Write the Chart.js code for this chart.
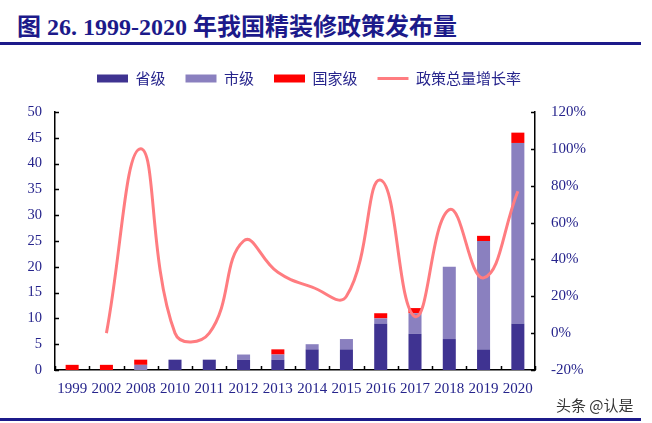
<!DOCTYPE html>
<html>
<head>
<meta charset="utf-8">
<script src="https://cdn.jsdelivr.net/npm/chart.js@4"></script>
<style>
  body { margin: 0; background: #fff; width: 652px; height: 423px; overflow: hidden; position: relative; }
  #title {
    position: absolute; left: 17px; top: 7px;
    font: bold 24px "Liberation Serif", "Noto Sans CJK SC", serif;
    color: #1c1a8a; white-space: nowrap;
  }
  .rule { position: absolute; left: 0; width: 641px; height: 3px; background: #1c1a8a; }
  #wrap { position: absolute; left: 0; top: 50px; width: 652px; height: 358px; }
  #mark {
    position: absolute; left: 556px; top: 394px;
    font: 15px "Noto Sans CJK SC", sans-serif; color: #333;
  }
</style>
</head>
<body>
<div id="title">图 26. 1999-2020 年我国精装修政策发布量</div>
<div class="rule" style="top:42px"></div>
<div id="wrap"><canvas id="c"></canvas></div>
<div id="mark">头条 @认是</div>
<div class="rule" style="top:418px"></div>
<script>
  const years = ["1999", "2002", "2008", "2010", "2011", "2012", "2013", "2014", "2015", "2016", "2017", "2018", "2019", "2020"];
  const provincial = [0, 0, 0, 2, 2, 2, 2, 4, 4, 9, 7, 6, 4, 9];
  const city = [0, 0, 1, 0, 0, 1, 1, 1, 2, 1, 4, 14, 21, 35];
  const national = [1, 1, 1, 0, 0, 0, 1, 0, 0, 1, 1, 0, 1, 2];
  const growth = [null, 0, 100, 0, 0, 50, 33, 25, 20, 83, 9, 67, 30, 77];

  const navy = "#26248c";
  const tickFont = { family: "Liberation Serif", size: 15 };

  // ticks drawn inward, like the original
  const innerTicks = {
    id: "innerTicks",
    afterDraw(chart) {
      const { ctx, chartArea: a, scales } = chart;
      ctx.save();
      ctx.strokeStyle = "#000";
      ctx.lineWidth = 1.5;
      ctx.beginPath();
      scales.y.ticks.forEach((t) => {
        const py = Math.round(scales.y.getPixelForValue(t.value)) + 0.5;
        ctx.moveTo(a.left, py); ctx.lineTo(a.left + 4, py);
      });
      scales.y1.ticks.forEach((t) => {
        const py = Math.round(scales.y1.getPixelForValue(t.value)) + 0.5;
        ctx.moveTo(a.right, py); ctx.lineTo(a.right - 4, py);
      });
      const x = scales.x;
      for (let i = 0; i <= years.length; i++) {
        const px = Math.round(x.getPixelForValue(i - 0.5)) + 0.5;
        ctx.moveTo(px, a.bottom); ctx.lineTo(px, a.bottom - 4);
      }
      ctx.stroke();
      ctx.restore();
    },
  };

  const legendGap = {
    id: "legendGap",
    beforeInit(chart) {
      const fit = chart.legend.fit;
      chart.legend.fit = function () {
        fit.call(this);
        this.height += 16;
      };
    },
  };

  new Chart(document.getElementById("c"), {
    data: {
      labels: years,
      datasets: [
        { type: "bar", label: "省级", data: provincial, backgroundColor: "#3f3391", yAxisID: "y", stack: "s", order: 2, pointStyle: "rect" },
        { type: "bar", label: "市级", data: city, backgroundColor: "#8a80bf", yAxisID: "y", stack: "s", order: 2, pointStyle: "rect" },
        { type: "bar", label: "国家级", data: national, backgroundColor: "#ff0000", yAxisID: "y", stack: "s", order: 2, pointStyle: "rect" },
        {
          type: "line", label: "政策总量增长率", data: growth, yAxisID: "y1",
          borderColor: "#ff7c80", backgroundColor: "#ff7c80", borderWidth: 3,
          pointRadius: 0, tension: 0.45, order: 1, pointStyle: "line",
        },
      ],
    },
    options: {
      responsive: true,
      maintainAspectRatio: false,
      animation: false,
      layout: { padding: { top: 1, right: 34, left: 0, bottom: 0 } },
      datasets: { bar: { categoryPercentage: 1, barPercentage: 0.38, borderWidth: 0 } },
      plugins: {
        legend: {
          labels: {
            usePointStyle: true, pointStyleWidth: 31, boxHeight: 8, padding: 20,
            color: navy, font: { family: "Noto Sans CJK SC", size: 15 },
            sort: (a, b) => a.datasetIndex - b.datasetIndex,
          },
        },
        tooltip: { enabled: false },
      },
      scales: {
        x: {
          stacked: true,
          grid: { display: false, drawTicks: false },
          border: { display: true, color: "#000", width: 1.5 },
          ticks: { color: navy, font: tickFont, padding: 10, maxRotation: 0, autoSkip: false },
        },
        y: {
          stacked: true, position: "left", min: 0, max: 50,
          grid: { display: false, drawTicks: false },
          border: { display: true, color: "#000", width: 1.5 },
          ticks: { stepSize: 5, color: navy, font: { family: "Liberation Serif", size: 14.5 }, padding: 13 },
          afterFit(s) { s.width = 55; },
        },
        y1: {
          position: "right", min: -20, max: 120,
          grid: { display: false, drawTicks: false },
          border: { display: true, color: "#000", width: 1.5 },
          ticks: { stepSize: 20, color: navy, font: tickFont, padding: 16, callback: (v) => v + "%" },
          afterFit(s) { s.width = 83; },
        },
      },
    },
    plugins: [innerTicks, legendGap],
  });
</script>
</body>
</html>
